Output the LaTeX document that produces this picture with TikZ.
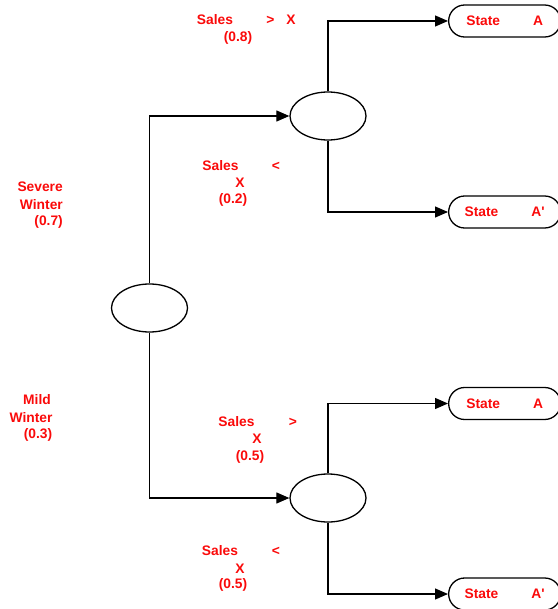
\documentclass[tikz,border=0pt]{standalone}
\usepackage{fontspec}
\setmainfont{Liberation Sans}
\usetikzlibrary{shapes.geometric,arrows.meta}
\definecolor{lblred}{RGB}{250,10,10}
\begin{document}
\begin{tikzpicture}[x=1pt,y=-1pt,
  chance/.style={draw,ellipse,line width=1.3pt,minimum width=76pt,minimum height=48pt,inner sep=0pt},
  statebox/.style={draw,line width=1.3pt,rounded corners=16pt,minimum width=112pt,minimum height=32pt,
    inner sep=0pt,anchor=west,text=lblred,font=\bfseries\fontsize{13.8}{15}\selectfont},
  lbl/.style={text=lblred,font=\bfseries\fontsize{13.8}{15}\selectfont,inner sep=0pt},
  link/.style={line width=1.2pt,-{Triangle[length=13pt,width=11pt]}},
  stem/.style={line width=1.2pt}]
\useasboundingbox (0,0) rectangle (557,609);

% decision tree nodes
\node[chance] (root) at (149.5,308) {};
\node[chance] (up) at (328,116) {};
\node[chance] (low) at (328,498) {};

\node[statebox] (s1) at (448,21) {State\hspace{33pt}A};
\node[statebox] (s2) at (448,212) {State\hspace{33pt}A\textquotesingle};
\node[statebox] (s3) at (448,403.5) {State\hspace{33pt}A};
\node[statebox] (s4) at (448,594) {State\hspace{33pt}A\textquotesingle};

% branches
\draw[link] (root.north) |- (up.west);
\draw[link] (root.south) |- (low.west);
\draw[link] (up.north) |- (s1.west);
\draw[link] (up.south) |- (s2.west);
\draw[link] (low.north) |- (s3.west);
\draw[link] (low.south) |- (s4.west);

% branch labels
\node[lbl,anchor=east] (sev1) at (63,187) {Severe};
\node[lbl,anchor=east] (sev2) at (63,205) {Winter};
\node[lbl,anchor=east] (sev3) at (63,222) {(0.7)};

\node[lbl] (mild1) at (37,400) {Mild};
\node[lbl] (mild2) at (31,418) {Winter};
\node[lbl] (mild3) at (38,435) {(0.3)};

\node[lbl] (a1) at (215,20) {Sales};
\node[lbl] (a2) at (270.5,20) {>};
\node[lbl] (a3) at (291,20) {X};
\node[lbl] (a4) at (238,38) {(0.8)};

\node[lbl] (b1) at (220.5,166) {Sales};
\node[lbl] (b2) at (276,166) {<};
\node[lbl] (b3) at (240,183) {X};
\node[lbl] (b4) at (233,200) {(0.2)};

\node[lbl] (c1) at (236.5,422) {Sales};
\node[lbl] (c2) at (293,422) {>};
\node[lbl] (c3) at (257,439) {X};
\node[lbl] (c4) at (250,457) {(0.5)};

\node[lbl] (d1) at (220,551) {Sales};
\node[lbl] (d2) at (276,551) {<};
\node[lbl] (d3) at (240,569) {X};
\node[lbl] (d4) at (233,585) {(0.5)};
\end{tikzpicture}
\end{document}
